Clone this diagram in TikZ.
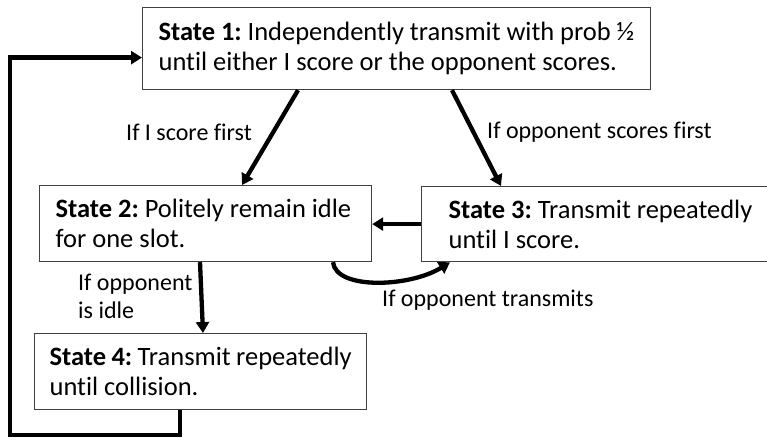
\documentclass[tikz,border=0pt]{standalone}
\usepackage{fontspec}
\setmainfont{Carlito}[Ligatures=NoCommon]
\usetikzlibrary{arrows.meta}
\begin{document}
\frenchspacing
\begin{tikzpicture}[x=1pt,y=-1pt,
  statebox/.style={draw=black!75,line width=1.2pt,fill=white,anchor=north west,
    align=flush left,font=\fontsize{26.5}{30}\selectfont,inner ysep=0pt},
  lbl/.style={font=\fontsize{24}{28}\selectfont,anchor=west,align=flush left,inner sep=0pt},
  conn/.style={line width=4.3pt,-{Triangle[width=13pt,length=11pt]}},
]
\useasboundingbox (0,0) rectangle (767,439);
\node[statebox,inner xsep=16pt,text width=476pt,minimum height=82pt] (b1) at (142,7)
  {\textbf{State 1:} Independently transmit with prob ½\\until either I score or the opponent scores.};
\node[statebox,inner xsep=16pt,text width=300pt,minimum height=76pt] (b2) at (39,185)
  {\textbf{State 2:} Politely remain idle\\for one slot.};
\node[statebox,inner xsep=27pt,text width=326pt,minimum height=75pt] (b3) at (421,186)
  {\textbf{State 3:} Transmit repeatedly\\until I score.};
\node[statebox,inner xsep=15pt,text width=302pt,minimum height=76pt] (b4) at (34,333)
  {\textbf{State 4:} Transmit repeatedly\\until collision.};
\coordinate (fb) at (10,435);
\draw[conn] ([xshift=156pt]b1.south west) -- ([xshift=203pt]b2.north west);
\draw[conn] ([xshift=310pt]b1.south west) -- ([xshift=80pt]b3.north west);
\draw[conn] (b3.west) -- (b3.west -| b2.east);
\draw[conn] ([xshift=161pt]b2.south west) -- ([xshift=169pt]b4.north west);
\draw[conn] ([xshift=294pt]b2.south west) .. controls +(3,28) and +(-40,25) .. ([xshift=29pt]b3.south west);
\draw[conn,line join=miter] ([xshift=146pt]b4.south west) |- (fb) |- ([yshift=-9pt]b1.west);
\node[lbl] (l1) at (126,132) {If I score first};
\node[lbl] (l2) at (487,132) {If opponent scores first};
\node[lbl] (l3) at (78,296) {If opponent\\is idle};
\node[lbl] (l4) at (382,300) {If opponent transmits};
\end{tikzpicture}
\end{document}
